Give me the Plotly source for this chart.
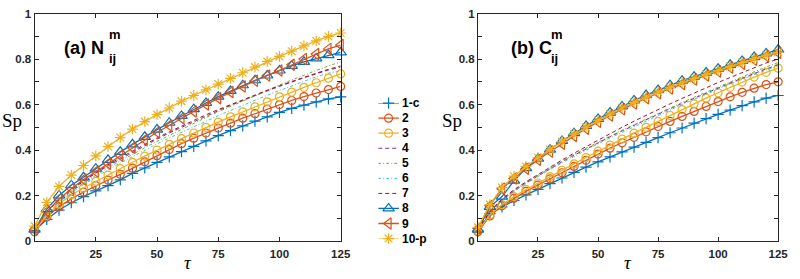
import plotly.graph_objects as go

tau = [0, 5, 10, 15, 20, 25, 30, 35, 40, 45, 50, 55, 60, 65, 70, 75, 80, 85, 90, 95, 100, 105, 110, 115, 120, 125]
names = ["1-c", "2", "3", "4", "5", "6", "7", "8", "9", "10-p"]

# panel (a) N_ij^m
a1 = [0.045, 0.095, 0.136, 0.168, 0.195, 0.22, 0.243, 0.269, 0.297, 0.321, 0.346, 0.37, 0.393, 0.416, 0.44, 0.463, 0.485, 0.506, 0.527, 0.546, 0.566, 0.583, 0.598, 0.612, 0.625, 0.634]
a2 = [0.04, 0.105, 0.15, 0.185, 0.215, 0.243, 0.268, 0.293, 0.32, 0.348, 0.375, 0.402, 0.428, 0.452, 0.475, 0.497, 0.518, 0.54, 0.56, 0.58, 0.6, 0.618, 0.635, 0.651, 0.666, 0.68]
a3 = [0.05, 0.112, 0.163, 0.203, 0.233, 0.262, 0.29, 0.318, 0.346, 0.373, 0.4, 0.425, 0.45, 0.475, 0.5, 0.523, 0.546, 0.568, 0.59, 0.612, 0.634, 0.655, 0.676, 0.696, 0.716, 0.735]
a4 = [0.05, 0.13, 0.18, 0.225, 0.262, 0.298, 0.33, 0.36, 0.39, 0.42, 0.448, 0.475, 0.5, 0.525, 0.55, 0.573, 0.596, 0.618, 0.64, 0.66, 0.68, 0.7, 0.718, 0.735, 0.752, 0.765]
a5 = [0.05, 0.125, 0.175, 0.218, 0.255, 0.29, 0.322, 0.352, 0.382, 0.41, 0.438, 0.465, 0.492, 0.518, 0.543, 0.568, 0.592, 0.616, 0.64, 0.663, 0.686, 0.708, 0.73, 0.75, 0.77, 0.788]
a6 = [0.05, 0.12, 0.17, 0.212, 0.248, 0.282, 0.313, 0.343, 0.372, 0.4, 0.427, 0.453, 0.478, 0.503, 0.527, 0.551, 0.574, 0.597, 0.619, 0.641, 0.662, 0.683, 0.703, 0.722, 0.738, 0.748]
a7 = [0.05, 0.13, 0.182, 0.228, 0.266, 0.302, 0.335, 0.366, 0.396, 0.425, 0.453, 0.48, 0.506, 0.531, 0.555, 0.578, 0.6, 0.622, 0.643, 0.663, 0.683, 0.702, 0.72, 0.738, 0.755, 0.77]
a8 = [0.05, 0.14, 0.2, 0.245, 0.28, 0.318, 0.357, 0.392, 0.425, 0.458, 0.49, 0.52, 0.55, 0.58, 0.607, 0.635, 0.66, 0.685, 0.707, 0.728, 0.75, 0.77, 0.788, 0.803, 0.818, 0.83]
a9 = [0.05, 0.13, 0.185, 0.23, 0.27, 0.305, 0.34, 0.375, 0.41, 0.445, 0.478, 0.508, 0.54, 0.57, 0.6, 0.628, 0.655, 0.68, 0.705, 0.728, 0.75, 0.775, 0.8, 0.822, 0.845, 0.862]
a10 = [0.065, 0.17, 0.24, 0.29, 0.332, 0.374, 0.415, 0.455, 0.492, 0.525, 0.556, 0.585, 0.615, 0.64, 0.665, 0.69, 0.715, 0.74, 0.765, 0.79, 0.812, 0.835, 0.858, 0.88, 0.9, 0.915]

# panel (b) C_ij^m
b1 = [0.044, 0.12, 0.15, 0.178, 0.203, 0.227, 0.252, 0.277, 0.302, 0.325, 0.348, 0.37, 0.392, 0.413, 0.434, 0.455, 0.476, 0.497, 0.518, 0.538, 0.557, 0.576, 0.595, 0.612, 0.628, 0.64]
b2 = [0.04, 0.11, 0.155, 0.188, 0.218, 0.246, 0.273, 0.3, 0.328, 0.355, 0.382, 0.408, 0.432, 0.456, 0.48, 0.503, 0.526, 0.548, 0.57, 0.592, 0.613, 0.634, 0.654, 0.672, 0.688, 0.70]
b3 = [0.045, 0.115, 0.16, 0.195, 0.226, 0.255, 0.283, 0.311, 0.339, 0.367, 0.395, 0.422, 0.448, 0.474, 0.5, 0.526, 0.552, 0.578, 0.603, 0.628, 0.652, 0.676, 0.699, 0.721, 0.742, 0.76]
b4 = [0.05, 0.125, 0.18, 0.22, 0.255, 0.287, 0.318, 0.348, 0.377, 0.405, 0.432, 0.458, 0.484, 0.509, 0.534, 0.558, 0.582, 0.605, 0.628, 0.651, 0.673, 0.695, 0.716, 0.737, 0.757, 0.775]
b5 = [0.05, 0.125, 0.182, 0.223, 0.258, 0.29, 0.321, 0.351, 0.38, 0.408, 0.435, 0.461, 0.487, 0.512, 0.537, 0.561, 0.585, 0.609, 0.632, 0.655, 0.678, 0.7, 0.722, 0.744, 0.765, 0.785]
b6 = [0.05, 0.122, 0.178, 0.218, 0.252, 0.284, 0.314, 0.343, 0.372, 0.4, 0.427, 0.453, 0.478, 0.503, 0.528, 0.552, 0.576, 0.6, 0.623, 0.646, 0.668, 0.69, 0.711, 0.732, 0.752, 0.77]
b7 = [0.05, 0.13, 0.185, 0.225, 0.26, 0.293, 0.325, 0.356, 0.386, 0.415, 0.444, 0.472, 0.5, 0.527, 0.553, 0.578, 0.603, 0.627, 0.651, 0.674, 0.697, 0.719, 0.741, 0.762, 0.783, 0.80]
b8 = [0.05, 0.15, 0.195, 0.265, 0.32, 0.362, 0.402, 0.44, 0.474, 0.506, 0.537, 0.565, 0.592, 0.618, 0.642, 0.664, 0.685, 0.705, 0.723, 0.741, 0.758, 0.775, 0.792, 0.809, 0.825, 0.842]
b9 = [0.055, 0.155, 0.23, 0.275, 0.318, 0.357, 0.393, 0.428, 0.462, 0.494, 0.524, 0.552, 0.579, 0.605, 0.628, 0.65, 0.671, 0.691, 0.71, 0.728, 0.746, 0.763, 0.78, 0.797, 0.813, 0.828]
b10 = [0.06, 0.16, 0.235, 0.285, 0.328, 0.366, 0.402, 0.437, 0.47, 0.5, 0.53, 0.558, 0.585, 0.61, 0.633, 0.655, 0.676, 0.696, 0.715, 0.733, 0.75, 0.768, 0.785, 0.802, 0.818, 0.83]

xticks = [25, 50, 75, 100, 125]
yticks = [0, 0.2, 0.4, 0.6, 0.8, 1]
ytick_text = ["0", "0.2", "0.4", "0.6", "0.8", "1"]

seriesA = [a1, a2, a3, a4, a5, a6, a7, a8, a9, a10]
seriesB = [b1, b2, b3, b4, b5, b6, b7, b8, b9, b10]

BLUE, ORANGE, YELLOW = "#0072BD", "#D95319", "#EDB120"
DASH = "4px,3px"
DASHDOT = "3px,2px,1px,2px"
styles = [
    dict(color=BLUE, dash="solid", symbol="cross-thin-open", size=8, lw=1.3),
    dict(color=ORANGE, dash="solid", symbol="circle-open", size=8, lw=1.3),
    dict(color=YELLOW, dash="solid", symbol="circle-open", size=8, lw=1.3),
    dict(color="#7E2F8E", dash=DASH, symbol=None, size=0, lw=1.0),
    dict(color="#77AC30", dash=DASHDOT, symbol=None, size=0, lw=1.0),
    dict(color="#4DBEEE", dash=DASHDOT, symbol=None, size=0, lw=1.0),
    dict(color="#A2142F", dash=DASH, symbol=None, size=0, lw=1.0),
    dict(color=BLUE, dash="solid", symbol="triangle-up-open", size=10, lw=1.3),
    dict(color=ORANGE, dash="solid", symbol="triangle-left-open", size=10, lw=1.3),
    dict(color=YELLOW, dash="solid", symbol="asterisk-open", size=9, lw=1.3),
]

W, H = 800, 279
def px(x):
    return x / W
def py(y):
    return 1 - y / H

fig = go.Figure()

for xa, ya, series in (("x", "y", seriesA), ("x2", "y2", seriesB)):
    for name, st, vals in zip(names, styles, series):
        mode = "lines+markers" if st["symbol"] else "lines"
        marker = dict(symbol=st["symbol"], size=st["size"], color=st["color"],
                      line=dict(width=1.2, color=st["color"])) if st["symbol"] else None
        fig.add_trace(go.Scatter(x=tau, y=vals, mode=mode, name=name, showlegend=False,
                                 line=dict(color=st["color"], width=st["lw"], dash=st["dash"]),
                                 marker=marker, xaxis=xa, yaxis=ya, cliponaxis=False))

# custom legend (hidden axis pair x3/y3)
for i, (name, st) in enumerate(zip(names, styles)):
    fig.add_trace(go.Scatter(x=[0, 1], y=[i, i], mode="lines", showlegend=False,
                             line=dict(color=st["color"], width=st["lw"], dash=st["dash"]),
                             xaxis="x3", yaxis="y3", cliponaxis=False, hoverinfo="skip"))
    if st["symbol"]:
        fig.add_trace(go.Scatter(x=[0.5], y=[i], mode="markers", showlegend=False,
                                 marker=dict(symbol=st["symbol"], size=st["size"], color=st["color"],
                                             line=dict(width=1.2, color=st["color"])),
                                 xaxis="x3", yaxis="y3", cliponaxis=False, hoverinfo="skip"))

AX = "#262626"
tickfont = dict(family="Liberation Sans, Arial, sans-serif", size=11.5, color=AX, weight="bold")
common_x = dict(range=[0, 125], tickvals=xticks, ticks="inside", ticklen=4, tickcolor=AX,
                showline=True, linecolor=AX, linewidth=1, mirror="allticks", showgrid=False,
                zeroline=False, tickfont=tickfont, ticklabelstandoff=2)
common_y = dict(range=[0, 1], tickvals=yticks, ticktext=ytick_text, ticks="inside", ticklen=4,
                tickcolor=AX, showline=True, linecolor=AX, linewidth=1, mirror="allticks",
                showgrid=False, zeroline=False, tickfont=tickfont,
                minor=dict(dtick=0.1, ticks="inside", ticklen=4, tickcolor=AX, showgrid=False))

y_dom = [py(245.5), py(8)]
fig.update_layout(
    width=W, height=H, margin=dict(l=0, r=0, t=0, b=0),
    paper_bgcolor="white", plot_bgcolor="white", showlegend=False,
    xaxis=dict(domain=[px(35), px(345)], anchor="y", **common_x),
    yaxis=dict(domain=y_dom, anchor="x", **common_y),
    xaxis2=dict(domain=[px(484), px(788)], anchor="y2", **common_x),
    yaxis2=dict(domain=y_dom, anchor="x2", **common_y),
    xaxis3=dict(domain=[px(383), px(404)], anchor="y3", range=[0, 1], visible=False),
    yaxis3=dict(domain=[py(243), py(101.5)], anchor="x3", range=[9, 0], visible=False),
)

ann = []
lab_font = dict(family="Liberation Sans, Arial, sans-serif", size=12, color="black", weight="bold")
for i, name in enumerate(names):
    ann.append(dict(x=px(405), y=i, xref="paper", yref="y3", text=name, showarrow=False,
                    xanchor="left", yanchor="middle", font=lab_font))

serif = "Liberation Serif, Times New Roman, serif"
for xc in (12, 458):
    ann.append(dict(x=px(xc), y=py(120), xref="paper", yref="paper", text="Sp", showarrow=False,
                    xanchor="center", yanchor="middle", font=dict(family=serif, size=19, color="black")))
for xc in (190, 636):
    ann.append(dict(x=px(xc), y=py(268), xref="paper", yref="paper", text="<i>τ</i>", showarrow=False,
                    xanchor="center", yanchor="middle", font=dict(family=serif, size=19, color="black")))

big = dict(family="Liberation Sans, Arial, sans-serif", size=18, color="black", weight="bold")
small = dict(family="Liberation Sans, Arial, sans-serif", size=13, color="black", weight="bold")
for x0, txt, xs in ((63, "(a) N", 108), (515, "(b) C", 556)):
    ann.append(dict(x=px(x0), y=py(44), xref="paper", yref="paper", text=txt, showarrow=False,
                    xanchor="left", yanchor="middle", font=big))
    ann.append(dict(x=px(xs), y=py(30), xref="paper", yref="paper", text="m", showarrow=False,
                    xanchor="left", yanchor="middle", font=small))
    ann.append(dict(x=px(xs), y=py(55), xref="paper", yref="paper", text="ij", showarrow=False,
                    xanchor="left", yanchor="middle", font=small))
fig.update_layout(annotations=ann)

fig.write_html("out.html", config={"displayModeBar": False},
               post_script="document.body.style.margin='0';document.body.style.overflow='hidden';")
